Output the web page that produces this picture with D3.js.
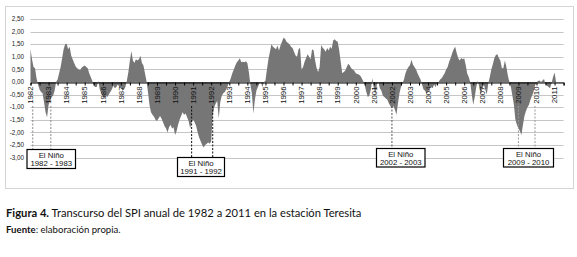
<!DOCTYPE html>
<html><head><meta charset="utf-8">
<script src="https://cdn.jsdelivr.net/npm/d3@7"></script>
<style>body{margin:0;background:#fff} svg{display:block}</style>
</head><body><svg id="c" width="577" height="257"></svg>
<script>
// ---- Data: monthly SPI values, Jan 1982 onward ----
const spi1982 = [1.30, 0.90, 0.60, 0.55, 0.15, -0.10, -0.30, -0.40, -0.45, -0.80, -1.20, -1.40];
const spi1983 = [-0.90, -0.75, -0.60, -0.55, -0.35, 0.00, 0.10, 0.35, 0.60, 0.94, 1.30, 1.50];
const spi1984 = [1.52, 1.30, 1.40, 1.05, 0.90, 0.75, 0.62, 0.55, 0.50, 0.48, 0.58, 0.62];
const spi1985 = [0.65, 0.60, 0.55, 0.35, 0.20, 0.05, -0.15, -0.20, -0.20, 0.05, -0.30, -0.45];
const spi1986 = [-0.55, -0.65, -0.55, -0.60, -0.50, -0.40, -0.30, -0.15, -0.25, -0.20, -0.10, -0.20];
const spi1987 = [-0.20, -0.35, -0.30, -0.20, 0.05, 0.40, 0.85, 1.23, 0.85, 0.75, 0.90, 0.85];
const spi1988 = [0.90, 1.04, 0.75, 0.65, 0.35, 0.05, -0.40, -0.90, -1.20, -1.30, -1.38, -1.50];
const spi1989 = [-1.55, -1.45, -1.35, -1.45, -1.60, -1.75, -1.85, -2.00, -1.80, -1.70, -1.85, -1.80];
const spi1990 = [-2.10, -1.95, -1.70, -1.50, -1.35, -1.20, -1.30, -1.25, -1.40, -1.55, -1.85, -1.60];
const spi1991 = [-1.50, -1.60, -1.75, -2.00, -2.20, -2.35, -2.50, -2.60, -2.50, -2.45, -2.40, -2.45];
const spi1992 = [-2.35, -1.30, -1.00, -0.85, -0.75, -1.45, -0.80, -0.55, -0.45, -0.40, -0.30, -0.15];
const spi1993 = [0.00, 0.15, 0.35, 0.50, 0.65, 0.78, 0.85, 0.94, 0.78, 0.80, 0.78, 0.82];
const spi1994 = [0.75, 0.40, -0.10, -0.45, -1.25, -0.70, -0.35, -0.20, -0.05, 0.00, -0.20, 0.00];
const spi1995 = [0.05, 0.50, 0.90, 1.20, 1.50, 1.40, 1.35, 1.30, 1.45, 1.25, 1.45, 1.60];
const spi1996 = [1.76, 1.72, 1.60, 1.55, 1.50, 1.40, 1.35, 1.20, 1.05, 1.00, 1.30, 1.36];
const spi1997 = [0.50, 0.60, 0.80, 0.95, 1.10, 1.00, 0.90, 1.30, 1.25, 0.85, 0.55, 0.40];
const spi1998 = [0.60, 1.47, 1.36, 1.30, 1.20, 1.35, 1.25, 1.40, 1.32, 1.65, 1.70, 1.63];
const spi1999 = [1.60, 1.25, 0.80, 0.35, 0.40, 0.45, 0.60, 0.72, 0.65, 0.55, 0.50, 0.45];
const spi2000 = [0.35, 0.32, 0.30, 0.25, 0.15, 0.02, -0.15, -0.40, -0.60, -0.55, -0.30, 0.15];
const spi2001 = [-0.25, -0.50, -0.10, 0.00, -0.25, -0.35, -0.55, -0.60, -0.65, -0.70, -0.85, -0.95];
const spi2002 = [-1.05, -0.95, -1.10, -1.30, -0.85, -0.45, -0.20, -0.05, 0.10, 0.35, 0.50, 0.60];
const spi2003 = [0.67, 0.88, 0.68, 0.60, 0.50, 0.35, 0.22, 0.10, -0.10, -0.30, -0.35, -0.45];
const spi2004 = [-0.40, -0.25, -0.20, -0.25, -0.10, -0.20, -0.05, 0.00, 0.10, 0.15, 0.25, 0.35];
const spi2005 = [0.50, 0.60, 0.80, 0.95, 1.14, 1.30, 1.40, 1.15, 0.95, 0.85, 0.95, 0.90];
const spi2006 = [0.94, 0.67, 0.34, 0.20, 0.00, -0.50, -0.90, -0.60, -0.20, 0.05, -0.20, -0.50];
const spi2007 = [-0.30, -0.10, -0.30, -0.50, -0.05, 0.20, 0.50, 0.70, 0.94, 1.07, 1.10, 0.95];
const spi2008 = [0.85, 0.55, 0.55, 0.85, 0.60, 0.25, 0.00, -0.20, -0.55, -0.90, -1.50, -1.70];
const spi2009 = [-1.84, -1.95, -2.10, -1.70, -1.35, -1.15, -1.00, -0.90, -0.70, -0.55, -0.40, -0.15];
const spi2010 = [-0.02, 0.04, 0.06, 0.00, 0.06, 0.12, -0.10, -0.15, -0.20, -0.25, -0.05, 0.20];
const spi2011 = [0.38, 0.00];

const yearLabels = ["1982","1983","1984","1985","1986","1987","1988","1989","1990","1991",
  "1992","1993","1994","1995","1996","1997","1998","1999","2000","2001",
  "2002","2003","2004","2005","2006","2007","2008","2009","2010","2011"];
const yTicks = [2.5, 2.0, 1.5, 1.0, 0.5, 0.0, -0.5, -1.0, -1.5, -2.0, -2.5, -3.0];
const yTickLabels = ["2,50","2,00","1,50","1,00","0,50","0,00","-0,50","-1,00","-1,50","-2,00","-2,50","-3,00"];
const nCategories = 355; // Jan 1982 .. Jul 2011 on the category axis

// El Niño annotations: month indices of the dashed guide lines
const ninoLabels = ["1982 - 1983", "1991 - 1992", "2002 - 2003", "2009 - 2010"];
const ninoLines = [[1.5, 13.5], [107, 121], [240], [324, 335]];

const caption = "Transcurso del SPI anual de 1982 a 2011 en la estación Teresita";
const source = "elaboración propia.";

const series = [].concat(spi1982, spi1983, spi1984, spi1985, spi1986, spi1987, spi1988, spi1989,
  spi1990, spi1991, spi1992, spi1993, spi1994, spi1995, spi1996, spi1997, spi1998, spi1999,
  spi2000, spi2001, spi2002, spi2003, spi2004, spi2005, spi2006, spi2007, spi2008, spi2009,
  spi2010, spi2011);

// ---- Drawing ----
const svg = d3.select("#c");
const x = d3.scaleLinear().domain([0, nCategories - 1]).range([30.5, 563.6]);
const y = d3.scaleLinear().domain([-3, 2.5]).range([157.6, 19]);

// chart frame
svg.append("rect").attr("x", 5.5).attr("y", 6.5).attr("width", 568).attr("height", 182)
  .attr("fill", "#fff").attr("stroke", "#d4d4d4").attr("stroke-width", 1);

// gridlines
svg.append("g").selectAll("line").data(yTicks).join("line")
  .attr("x1", x(0)).attr("x2", x(nCategories - 1))
  .attr("y1", d => Math.round(y(d)) + 0.5).attr("y2", d => Math.round(y(d)) + 0.5)
  .attr("stroke", "#c6c6c6").attr("stroke-width", 1);

// y labels
svg.append("g").selectAll("text").data(yTicks).join("text")
  .attr("x", 24).attr("y", d => y(d)).attr("dy", "0.35em")
  .attr("text-anchor", "end")
  .attr("font-family", "Liberation Sans, Arial, sans-serif").attr("font-size", 6.3)
  .attr("fill", "#222")
  .text((d, i) => yTickLabels[i]);

// area
const area = d3.area().x((d, i) => x(i)).y0(y(0)).y1(d => y(d));
svg.append("path").datum(series).attr("d", area).attr("fill", "#767676");

// x axis
const xAxis = d3.axisBottom(x)
  .tickValues(d3.range(0, nCategories, 6))
  .tickSize(3).tickFormat("");
const gx = svg.append("g").attr("transform", `translate(0,${Math.round(y(0)) + 0.5})`).call(xAxis);
gx.select(".domain").attr("stroke", "#000");
gx.selectAll(".tick line").attr("stroke", "#000");

// year labels (rotated)
svg.append("g").selectAll("text").data(yearLabels).join("text")
  .attr("transform", (d, i) => `translate(${x(i * 12)},${y(0) + 4.5}) rotate(-90)`)
  .attr("dy", "0.35em").attr("text-anchor", "end")
  .attr("font-family", "Liberation Sans, Arial, sans-serif").attr("font-size", 7.8)
  .attr("fill", "#111")
  .text(d => d);

// El Niño annotations
const boxes = [
  {x: 27, y: 149.5, w: 48.5, h: 19, color: "#8a8a8a"},
  {x: 177.5, y: 157.5, w: 47, h: 19, color: "#111"},
  {x: 376.5, y: 148.5, w: 48.5, h: 18.5, color: "#555"},
  {x: 503.5, y: 148.5, w: 50, h: 18.5, color: "#999"}
];
ninoLabels.forEach((lab, k) => {
  const b = boxes[k];
  ninoLines[k].forEach(m => {
    svg.append("line").attr("x1", x(m)).attr("x2", x(m))
      .attr("y1", 106).attr("y2", b.y)
      .attr("stroke", b.color).attr("stroke-width", 1).attr("stroke-dasharray", "2,1.5");
  });
  svg.append("rect").attr("x", b.x).attr("y", b.y).attr("width", b.w).attr("height", b.h)
    .attr("fill", "#fff").attr("stroke", "#000").attr("stroke-width", 1.2);
  const t = svg.append("text").attr("text-anchor", "middle")
    .attr("font-family", "Liberation Sans, Arial, sans-serif").attr("font-size", 7.8).attr("fill", "#111");
  t.append("tspan").attr("x", b.x + b.w / 2).attr("y", b.y + 8).text("El Niño");
  t.append("tspan").attr("x", b.x + b.w / 2).attr("y", b.y + 16.5).text(lab);
});

// captions
const cap = svg.append("text").attr("x", 6).attr("y", 216.5)
  .attr("font-family", "Lato, 'Open Sans', sans-serif").attr("font-size", 11.2).attr("fill", "#111");
cap.append("tspan").attr("font-weight", "bold").text("Figura 4.");
cap.append("tspan").text(" " + caption);
const src = svg.append("text").attr("x", 6).attr("y", 232.5)
  .attr("font-family", "Lato, 'Open Sans', sans-serif").attr("font-size", 9.6).attr("fill", "#111");
src.append("tspan").attr("font-weight", "bold").text("Fuente");
src.append("tspan").text(": " + source);
</script></body></html>
